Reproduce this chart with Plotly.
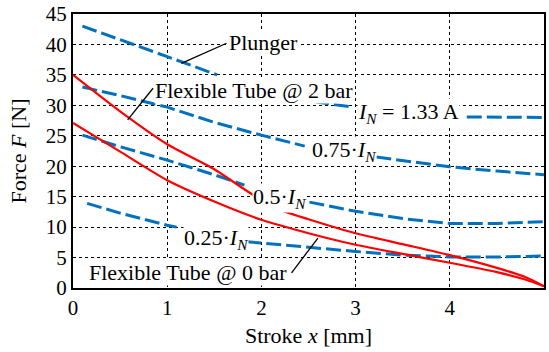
import plotly.graph_objects as go

# ---- data ----
x_133 = [0.1, 0.5, 1.0, 1.53, None, 2.35, 2.6, 2.97, None, 4.18, 4.6, 5.0]
f_133 = [43.0, 40.8, 38.0, 35.0, None, 31.2, 30.5, 29.7, None, 28.1, 28.0, 28.0]

x_075 = [0.1, 0.5, 1.0, 1.5, 2.0, 2.46, None, 3.22, 3.6, 4.0, 4.5, 5.0]
f_075 = [33.0, 31.6, 29.7, 27.2, 25.1, 23.3, None, 21.5, 20.7, 19.9, 19.2, 18.6]

x_050 = [0.1, 0.5, 1.0, 1.5, 1.82, None, 2.51, 3.0, 3.5, 4.0, 4.5, 5.0]
f_050 = [25.1, 23.2, 21.0, 18.6, 16.9, None, 14.1, 12.6, 11.4, 10.6, 10.6, 10.9]

x_025 = [0.15, 0.5, 1.0, 1.1, None, 1.84, 2.19, 2.5, 3.0, 3.5, 4.0, 4.5, 5.0]
f_025 = [13.9, 12.3, 10.3, 10.0, None, 7.6, 7.1, 6.6, 6.0, 5.4, 5.1, 5.1, 5.25]

x_tube2 = [0, 0.5, 1.0, 1.5, 1.83, 2.15, 2.5, 3.0, 3.5, 4.0, 4.5, 4.8, 5.0]
f_tube2 = [35.0, 29.0, 23.6, 19.5, 16.1, 13.1, 11.3, 9.0, 7.2, 5.4, 3.3, 1.8, 0.3]

x_tube0 = [0, 0.5, 1.0, 1.5, 2.0, 2.5, 3.0, 3.5, 4.0, 4.5, 4.8, 5.0]
f_tube0 = [27.1, 22.4, 17.7, 14.2, 11.2, 9.0, 7.1, 5.6, 4.15, 2.6, 1.4, 0.3]

x_ticks = [0, 1, 2, 3, 4, 5]
y_ticks = [0, 5, 10, 15, 20, 25, 30, 35, 40, 45]

# labels: (text, x_left, y_center)
label_text = ["Plunger", "Flexible Tube @ 2 bar", "<i>I</i><sub><i>N</i></sub> = 1.33 A",
              "0.75·<i>I</i><sub><i>N</i></sub>", "0.5·<i>I</i><sub><i>N</i></sub>",
              "0.25·<i>I</i><sub><i>N</i></sub>", "Flexible Tube @ 0 bar"]
label_x = [1.65, 0.86, 3.02, 2.53, 1.90, 1.165, 0.16]
label_y = [40.4, 32.4, 28.7, 22.5, 14.8, 8.0, 2.5]

# leader lines
leader_x0 = [1.63, 0.85, 2.32]
leader_y0 = [40.2, 32.8, 2.5]
leader_x1 = [1.15, 0.58, 2.60]
leader_y1 = [36.9, 27.6, 8.2]

BLUE = "#0072BD"
RED = "#FF0000"
FONT = "Liberation Serif"
FS = 22
TFS = 21
XR = [0, 5]
YR = [0, 45]

fig = go.Figure()

for xs, fs in [(x_133, f_133), (x_075, f_075), (x_050, f_050), (x_025, f_025)]:
    fig.add_trace(go.Scatter(x=xs, y=fs, mode="lines", connectgaps=False,
                             line=dict(color=BLUE, width=3, dash="15px,5px"),
                             showlegend=False, hoverinfo="skip"))
for xs, fs in [(x_tube2, f_tube2), (x_tube0, f_tube0)]:
    fig.add_trace(go.Scatter(x=xs, y=fs, mode="lines",
                             line=dict(color=RED, width=2.2, shape="spline", smoothing=0.6),
                             showlegend=False, hoverinfo="skip"))

for t, lx, ly in zip(label_text, label_x, label_y):
    fig.add_annotation(x=lx, y=ly, xref="x", yref="y", text=t, showarrow=False,
                       xanchor="left", yanchor="middle", bgcolor="white", borderpad=0,
                       font=dict(family=FONT, size=FS, color="black"))

for a, b, c, d in zip(leader_x0, leader_y0, leader_x1, leader_y1):
    fig.add_shape(type="line", x0=a, y0=b, x1=c, y1=d, xref="x", yref="y",
                  line=dict(color="black", width=1.3), layer="above")

axis_common = dict(showgrid=True, gridcolor="black", gridwidth=1, griddash="dot",
                   zeroline=False, showline=True, linecolor="black", linewidth=2,
                   mirror=True,
                   ticks="", tickfont=dict(family=FONT, size=TFS, color="black"))

fig.update_layout(
    width=549, height=352,
    margin=dict(l=73, r=5, t=14, b=64),
    paper_bgcolor="white", plot_bgcolor="white",
    xaxis=dict(range=XR, tickvals=x_ticks, **axis_common,
               title=dict(text="Stroke <i>x</i> [mm]", standoff=8,
                          font=dict(family=FONT, size=FS, color="black"))),
    yaxis=dict(range=YR, tickvals=y_ticks, **axis_common,
               title=dict(text="Force <i>F</i> [N]", standoff=13,
                          font=dict(family=FONT, size=FS, color="black"))),
)
fig.update_xaxes(automargin=False)
fig.update_yaxes(automargin=False)

fig.write_html("out.html")
